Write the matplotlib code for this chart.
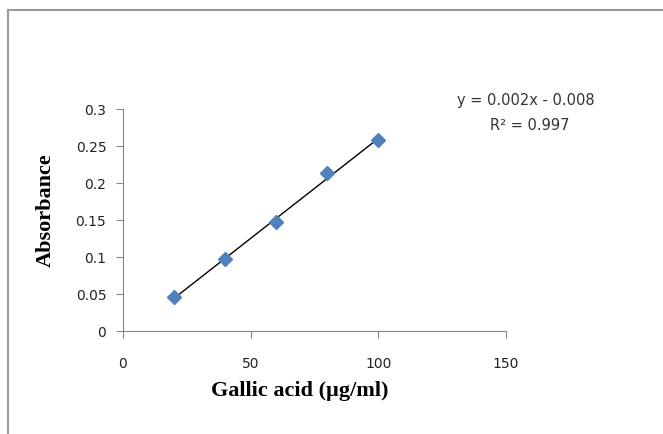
import numpy as np
import matplotlib
matplotlib.use("Agg")
import matplotlib.pyplot as plt
from matplotlib.ticker import FuncFormatter
from matplotlib.lines import Line2D

conc = [20, 40, 60, 80, 100]            # Gallic acid (ug/ml)
absorb = [0.046, 0.097, 0.147, 0.213, 0.258]
x_ticks = [0, 50, 100, 150]
y_ticks = [0, 0.05, 0.1, 0.15, 0.2, 0.25, 0.3]
eq_text = "y = 0.002x - 0.008"
r2_text = "R\u00b2 = 0.997"

fig = plt.figure(figsize=(6.63, 4.34), dpi=100)
ax = fig.add_axes([0.1855, 0.2373, 0.5777, 0.5115])

# linear trendline over data range
k, b = np.polyfit(conc, absorb, 1)
xs = np.array([min(conc), max(conc)])
ax.plot(xs, k * xs + b, color="black", lw=1, zorder=2)
ax.plot(conc, absorb, ls="none", marker="D", ms=7, color="#4F81BD",
        mec="#4F81BD", zorder=3)

ax.set_xlim(0, 150); ax.set_ylim(0, 0.3)
ax.set_xticks(x_ticks); ax.set_yticks(y_ticks)
ax.yaxis.set_major_formatter(FuncFormatter(lambda v, p: f"{v:g}"))
for s in ["top", "right"]:
    ax.spines[s].set_visible(False)
for s in ["left", "bottom"]:
    ax.spines[s].set_color("#868686")
ax.tick_params(color="#868686", length=5, labelsize=10, labelcolor="#222222")
ax.tick_params(axis="x", pad=14)
ax.tick_params(axis="y", pad=7)

ax.set_xlabel("Gallic acid (\u00b5g/ml)", family="Liberation Serif", fontweight="bold",
              fontsize=16, va="center")
ax.xaxis.set_label_coords(0.462, -0.27)
ax.set_ylabel("Absorbance", family="Liberation Serif", fontweight="bold",
              fontsize=16, va="center")
ax.yaxis.set_label_coords(-0.201, 0.545)

fig.text(526 / 663, 1 - 101 / 434, eq_text, ha="center", va="center", fontsize=10.5,
         color="#333333")
fig.text(530 / 663, 1 - 125 / 434, r2_text, ha="center", va="center", fontsize=10.5,
         color="#333333")

# chart-area frame (top and left edges visible)
fig.add_artist(Line2D([8 / 663, 1], [1 - 10 / 434] * 2, transform=fig.transFigure,
                      color="#9a9a9a", lw=1.5))
fig.add_artist(Line2D([8 / 663] * 2, [0, 1 - 10 / 434], transform=fig.transFigure,
                      color="#9a9a9a", lw=1.5))

fig.savefig("out.png", dpi=100)
